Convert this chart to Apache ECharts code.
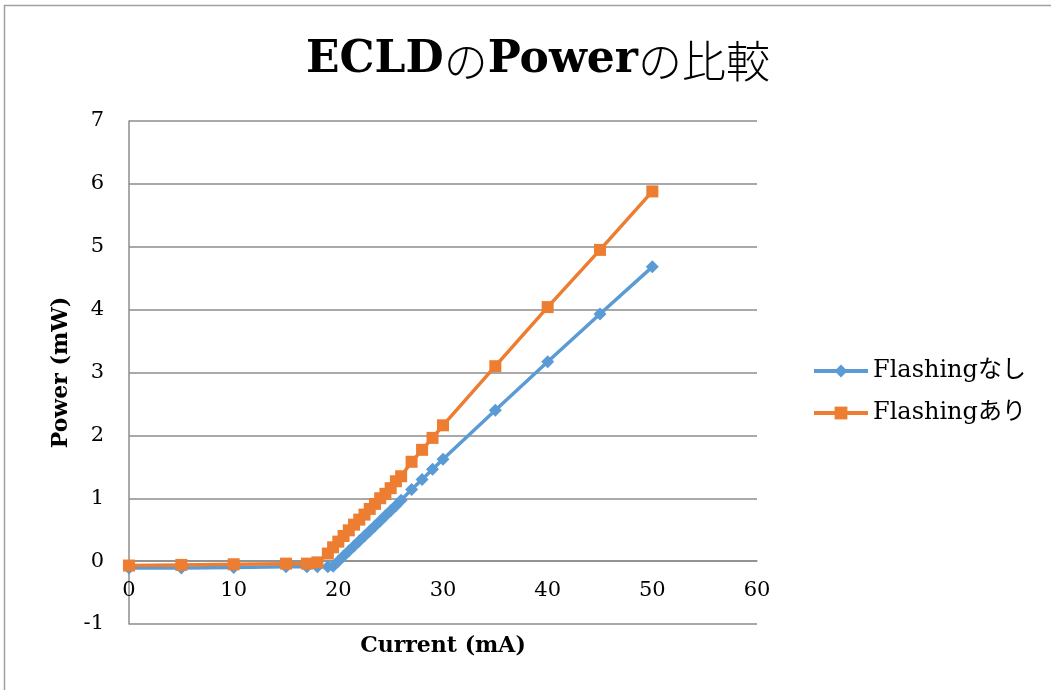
<!DOCTYPE html>
<html>
<head>
<meta charset="utf-8">
<script src="https://cdn.jsdelivr.net/npm/echarts@6/dist/echarts.min.js"></script>
<style>
  html, body { margin: 0; padding: 0; background: #fff; }
  #chart { width: 1051px; height: 690px; }
</style>
</head>
<body>
<div id="chart"></div>
<script>
// Current (mA) and optical power (mW) for the two measurement runs
const currentNoFlash = [0, 5, 10, 15, 17, 18, 19, 19.5, 20, 20.5, 21, 21.5, 22, 22.5, 23, 23.5, 24, 24.5, 25, 25.5, 26, 27, 28, 29, 30, 35, 40, 45, 50];
const powerNoFlash   = [-0.11, -0.11, -0.1, -0.09, -0.09, -0.09, -0.09, -0.08, 0.0, 0.08, 0.16, 0.24, 0.32, 0.40, 0.48, 0.56, 0.64, 0.72, 0.80, 0.88, 0.97, 1.14, 1.30, 1.46, 1.62, 2.40, 3.17, 3.93, 4.68];

const currentFlash = [0, 5, 10, 15, 17, 18, 19, 19.5, 20, 20.5, 21, 21.5, 22, 22.5, 23, 23.5, 24, 24.5, 25, 25.5, 26, 27, 28, 29, 30, 35, 40, 45, 50];
const powerFlash   = [-0.07, -0.06, -0.05, -0.04, -0.04, -0.02, 0.12, 0.22, 0.31, 0.40, 0.49, 0.58, 0.66, 0.74, 0.83, 0.91, 1.0, 1.07, 1.16, 1.27, 1.35, 1.58, 1.77, 1.96, 2.16, 3.10, 4.04, 4.95, 5.88];

const seriesNames = ['Flashingなし', 'Flashingあり'];
// Title split into Latin runs (heavier) and kana/kanji runs (lighter)
const titleParts = [['lat', 'ECLD'], ['jp', 'の'], ['lat', 'Power'], ['jp', 'の比較']];
const xName = 'Current (mA)';
const yName = 'Power (mW)';

const serif = '"DejaVu Serif", "Liberation Serif", "Noto Sans CJK JP", serif';
const gridColor = '#8c8c8c';

const pairs = (xs, ys) => xs.map((x, i) => [x, ys[i]]);

const chart = echarts.init(document.getElementById('chart'), null, { renderer: 'canvas' });

chart.setOption({
  backgroundColor: '#ffffff',
  animation: false,
  graphic: [{
    type: 'rect',
    shape: { x: 4.5, y: 5.5, width: 1100, height: 800 },
    style: { fill: 'none', stroke: '#a0a0a0', lineWidth: 1.5 },
    silent: true,
    z: -10
  }],
  title: {
    text: titleParts.map(([k, t]) => '{' + k + '|' + t + '}').join(''),
    left: 533,
    textAlign: 'center',
    top: 34,
    textStyle: {
      fontFamily: serif, fontSize: 44, color: '#000',
      rich: {
        lat: { fontFamily: serif, fontSize: 44, fontWeight: 'bold', color: '#000' },
        jp: { fontFamily: '"Noto Sans CJK JP", sans-serif', fontSize: 44, fontWeight: 300, color: '#000' }
      }
    }
  },
  legend: {
    orient: 'vertical',
    left: 807,
    top: 354,
    itemWidth: 54,
    itemHeight: 16,
    itemGap: 18,
    lineStyle: { width: 4 },
    textStyle: { fontFamily: serif, fontSize: 24, color: '#000' },
    data: seriesNames
  },
  grid: { left: 129, right: 294, top: 121, bottom: 66, containLabel: false, outerBoundsMode: 'none' },
  xAxis: {
    type: 'value',
    min: 0, max: 60, interval: 10,
    name: xName,
    nameLocation: 'middle',
    nameGap: 74,
    offset: -63,
    nameTextStyle: { fontFamily: serif, fontSize: 22, fontWeight: 'bold', color: '#000' },
    axisLine: { onZero: false, lineStyle: { color: gridColor, width: 1.5 } },
    axisTick: { show: false },
    axisLabel: { fontFamily: serif, fontSize: 21, color: '#000', margin: 19 },
    splitLine: { show: false }
  },
  yAxis: {
    type: 'value',
    min: -1, max: 7, interval: 1,
    name: yName,
    nameLocation: 'middle',
    nameGap: 57,
    nameRotate: 90,
    nameTextStyle: { fontFamily: serif, fontSize: 22, fontWeight: 'bold', color: '#000' },
    axisLine: { show: true, lineStyle: { color: gridColor, width: 1.5 } },
    axisTick: { show: false },
    axisLabel: { fontFamily: serif, fontSize: 21, color: '#000', margin: 25 },
    splitLine: { show: true, lineStyle: { color: gridColor, width: 1.5 } }
  },
  series: [
    {
      name: seriesNames[0],
      type: 'line',
      data: pairs(currentNoFlash, powerNoFlash),
      symbol: 'diamond',
      symbolSize: 13,
      showAllSymbol: true,
      lineStyle: { color: '#5b9bd5', width: 3.5 },
      itemStyle: { color: '#5b9bd5' },
      z: 2
    },
    {
      name: seriesNames[1],
      type: 'line',
      data: pairs(currentFlash, powerFlash),
      symbol: 'rect',
      symbolSize: 12,
      showAllSymbol: true,
      lineStyle: { color: '#ed7d31', width: 3.5 },
      itemStyle: { color: '#ed7d31' },
      z: 3
    }
  ]
});
</script>
</body>
</html>
